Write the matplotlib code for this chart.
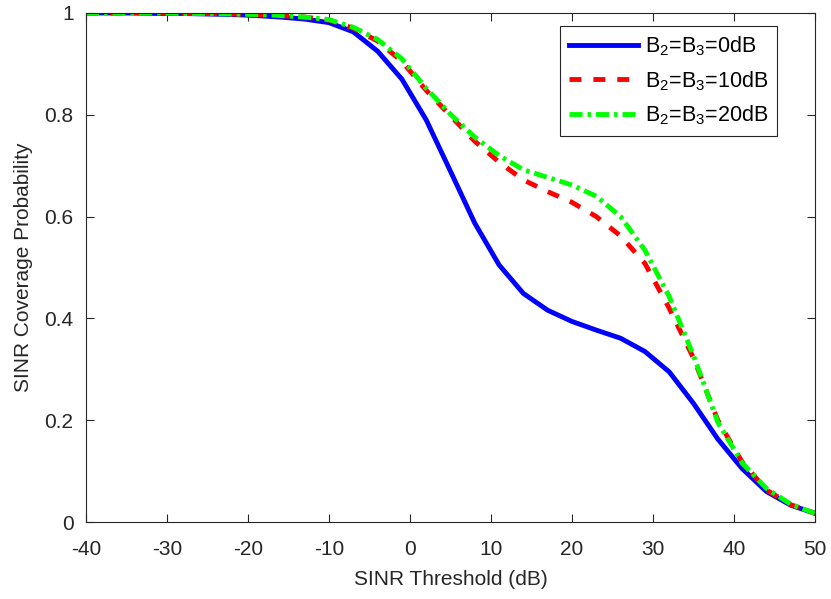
import numpy as np
import matplotlib
matplotlib.use("Agg")
import matplotlib.pyplot as plt

plt.rcParams['font.family'] = ['Liberation Sans', 'DejaVu Sans']
plt.rcParams['mathtext.fontset'] = 'custom'
plt.rcParams['mathtext.rm'] = 'Liberation Sans'
plt.rcParams['mathtext.it'] = 'Liberation Sans'
plt.rcParams['lines.scale_dashes'] = False
plt.rcParams['axes.unicode_minus'] = False

sinr_db = [-40, -37, -34, -31, -28, -25, -22, -19, -16, -13, -10, -7, -4, -1, 2, 5, 8,
           11, 14, 17, 20, 23, 26, 29, 32, 35, 38, 41, 44, 47, 50]

p_0db = [1.000, 1.000, 1.000, 0.999, 0.999, 0.998, 0.997, 0.995, 0.992, 0.988, 0.981,
         0.963, 0.925, 0.870, 0.790, 0.689, 0.587, 0.505, 0.449, 0.416, 0.394, 0.377,
         0.361, 0.335, 0.295, 0.233, 0.163, 0.105, 0.060, 0.033, 0.017]

p_10db = [1.000, 1.000, 1.000, 1.000, 0.999, 0.999, 0.998, 0.997, 0.995, 0.992, 0.986,
          0.970, 0.945, 0.905, 0.848, 0.798, 0.748, 0.707, 0.672, 0.649, 0.628, 0.600,
          0.562, 0.508, 0.420, 0.322, 0.200, 0.118, 0.063, 0.034, 0.017]

p_20db = [1.000, 1.000, 1.000, 1.000, 0.999, 0.999, 0.998, 0.997, 0.995, 0.992, 0.987,
          0.972, 0.948, 0.910, 0.852, 0.801, 0.756, 0.720, 0.692, 0.677, 0.662, 0.640,
          0.600, 0.534, 0.443, 0.327, 0.196, 0.116, 0.066, 0.035, 0.017]

labels = [r'B$_2$=B$_3$=0dB', r'B$_2$=B$_3$=10dB', r'B$_2$=B$_3$=20dB']
xticks = [-40, -30, -20, -10, 0, 10, 20, 30, 40, 50]
yticks = [0, 0.2, 0.4, 0.6, 0.8, 1]
yticklabels = ['0', '0.2', '0.4', '0.6', '0.8', '1']

axc = '#262626'
fig = plt.figure(figsize=(8.31, 5.99), dpi=100)
ax = fig.add_axes([86 / 831, 1 - 522 / 599, (815 - 86) / 831, (522 - 13) / 599])

ax.plot(sinr_db, p_0db, color='#0000ff', lw=3.5, linestyle='-', label=labels[0])
ax.plot(sinr_db, p_10db, color='#ff0000', lw=3.5, linestyle=(0, (8.6, 8.6)), label=labels[1])
ax.plot(sinr_db, p_20db, color='#00ff00', lw=3.5, linestyle=(0, (9.4, 3.6, 2.5, 3.6)), label=labels[2])

ax.set_xlim(-40, 50)
ax.set_ylim(0, 1)
ax.set_xticks(xticks)
ax.set_xticklabels([str(v) for v in xticks])
ax.set_yticks(yticks)
ax.set_yticklabels(yticklabels)
ax.tick_params(direction='in', length=5.5, width=0.8, colors=axc, labelsize=15,
               top=True, right=True)
ax.tick_params(axis='x', pad=13)
ax.tick_params(axis='y', pad=9)
for s in ax.spines.values():
    s.set_color(axc)
    s.set_linewidth(0.8)

ax.set_xlabel('SINR Threshold (dB)', fontsize=15, color=axc, labelpad=8)
ax.set_ylabel('SINR Coverage Probability', fontsize=15, color=axc, labelpad=8)

leg = ax.legend(loc='upper right', bbox_to_anchor=(777 / 831, 1 - 26 / 599),
                bbox_transform=fig.transFigure, fontsize=15.5, fancybox=False,
                framealpha=1, edgecolor=axc, handlelength=3.2, borderpad=0.4,
                labelspacing=0.5, handletextpad=0.35, borderaxespad=0)
leg.get_frame().set_linewidth(0.8)

fig.savefig('out.png', dpi=100)
